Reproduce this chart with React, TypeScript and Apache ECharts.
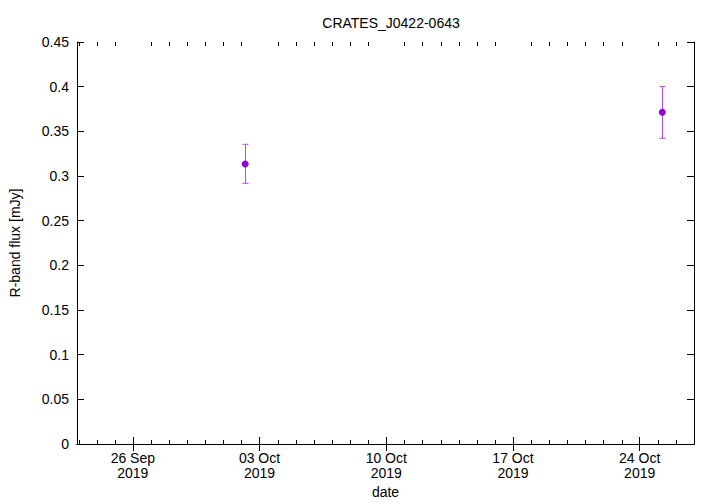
import React, { useEffect, useRef } from "react";
import * as echarts from "echarts";

const titleText = "CRATES_J0422-0643";
const obsDates = ["2019-10-02T05:00:00Z", "2019-10-25T06:00:00Z"];
const fluxValues = [0.3134, 0.3713];
const fluxLow = [0.2918, 0.3422];
const fluxHigh = [0.3355, 0.4002];
const majorTickDates = ["2019-09-26", "2019-10-03", "2019-10-10", "2019-10-17", "2019-10-24"];
const majorTickLabels = ["26 Sep\n2019", "03 Oct\n2019", "10 Oct\n2019", "17 Oct\n2019", "24 Oct\n2019"];
const xRangeStart = "2019-09-22T22:00:00Z";
const xRangeEnd = "2019-10-27T00:00:00Z";

const DAY = 86400000;
const toMs = (s: string) => new Date(s.length === 10 ? s + "T00:00:00Z" : s).getTime();

export default function App() {
  const ref = useRef<HTMLDivElement>(null);
  useEffect(() => {
    if (!ref.current) return;
    const chart = echarts.init(ref.current, undefined, { renderer: "svg" });
    const xMin = toMs(xRangeStart);
    const xMax = toMs(xRangeEnd);
    const majors = majorTickDates.map(toMs);
    const majorSet = new Set(majors);
    const minors: number[] = [];
    for (let t = Math.ceil(xMin / DAY) * DAY; t <= xMax; t += DAY) if (!majorSet.has(t)) minors.push(t);
    const labelMap: Record<number, string> = {};
    majors.forEach((m, i) => (labelMap[m] = majorTickLabels[i]));
    const font = "'Liberation Sans', Arial, sans-serif";
    const fs = 14;
    const axisLine = { show: true, lineStyle: { color: "#000", width: 1 } };
    const points = obsDates.map((d, i) => [toMs(d), fluxValues[i]]);
    const bars = obsDates.map((d, i) => [toMs(d), fluxLow[i], fluxHigh[i]]);
    const baseX = { type: "value", min: xMin, max: xMax, splitLine: { show: false } };
    const errColor = "#b84cec";

    chart.setOption({
      animation: false,
      backgroundColor: "#fff",
      title: {
        text: titleText,
        left: 386,
        top: 11,
        textAlign: "center",
        textStyle: { fontFamily: font, fontSize: fs, fontWeight: "normal", color: "#000" },
      },
      grid: { left: 76, right: 26, top: 42, bottom: 60 },
      xAxis: [
        {
          ...baseX,
          position: "bottom",
          name: "date",
          nameLocation: "middle",
          nameGap: 41,
          nameTextStyle: { fontFamily: font, fontSize: fs, color: "#000" },
          axisLine,
          axisTick: { show: true, inside: true, length: 7, customValues: majors, lineStyle: { color: "#000" } },
          axisLabel: {
            show: true,
            customValues: majors,
            formatter: (v: number) => labelMap[v] ?? "",
            fontFamily: font,
            fontSize: fs,
            color: "#000",
            lineHeight: 15,
            margin: 6,
          },
        },
        {
          ...baseX,
          position: "top",
          axisLine,
          axisTick: { show: true, inside: true, length: 7, customValues: majors, lineStyle: { color: "#000" } },
          axisLabel: { show: false },
        },
      ],
      yAxis: [
        {
          type: "value",
          position: "left",
          min: 0,
          max: 0.45,
          interval: 0.05,
          name: "R-band flux [mJy]",
          nameLocation: "middle",
          nameGap: 55,
          nameTextStyle: { fontFamily: font, fontSize: fs, color: "#000" },
          axisLine,
          axisTick: { show: true, inside: true, length: 7, lineStyle: { color: "#000" } },
          axisLabel: {
            fontFamily: font,
            fontSize: fs,
            color: "#000",
            margin: 8,
            formatter: (v: number) => String(parseFloat(v.toFixed(2))),
          },
          splitLine: { show: false },
        },
        {
          type: "value",
          position: "right",
          min: 0,
          max: 0.45,
          interval: 0.05,
          axisLine,
          axisTick: { show: true, inside: true, length: 7, lineStyle: { color: "#000" } },
          axisLabel: { show: false },
          splitLine: { show: false },
        },
      ],
      series: [
        {
          type: "custom",
          xAxisIndex: 0,
          yAxisIndex: 0,
          data: minors.map((t) => [t]),
          silent: true,
          clip: false,
          renderItem: (params: any, api: any) => {
            const t = api.value(0);
            const b = api.coord([t, 0]);
            const top = api.coord([t, 0.45]);
            const x = Math.round(b[0]) + 0.5;
            const style = { stroke: "#000", lineWidth: 1 };
            return {
              type: "group",
              children: [
                { type: "line", shape: { x1: x, y1: b[1], x2: x, y2: b[1] - 4 }, style },
                { type: "line", shape: { x1: x, y1: top[1], x2: x, y2: top[1] + 4 }, style },
              ],
            };
          },
          z: 1,
        },
        {
          type: "custom",
          xAxisIndex: 0,
          yAxisIndex: 0,
          data: bars,
          renderItem: (params: any, api: any) => {
            const x = api.value(0);
            const lo = api.coord([x, api.value(1)]);
            const hi = api.coord([x, api.value(2)]);
            const cx = Math.round(lo[0]) + 0.5;
            const w = 3;
            const style = { stroke: errColor, lineWidth: 1, fill: "none" };
            return {
              type: "group",
              children: [
                { type: "line", shape: { x1: cx, y1: lo[1], x2: cx, y2: hi[1] }, style },
                { type: "line", shape: { x1: cx - w, y1: lo[1], x2: cx + w, y2: lo[1] }, style },
                { type: "line", shape: { x1: cx - w, y1: hi[1], x2: cx + w, y2: hi[1] }, style },
              ],
            };
          },
          z: 2,
        },
        {
          type: "scatter",
          xAxisIndex: 0,
          yAxisIndex: 0,
          data: points,
          symbol: "circle",
          symbolSize: 7,
          itemStyle: { color: "#9400d3", opacity: 1 },
          z: 3,
        },
      ],
    });
    return () => chart.dispose();
  }, []);
  return <div ref={ref} style={{ position: "absolute", left: 0, top: 0, width: 720, height: 504 }} />;
}
